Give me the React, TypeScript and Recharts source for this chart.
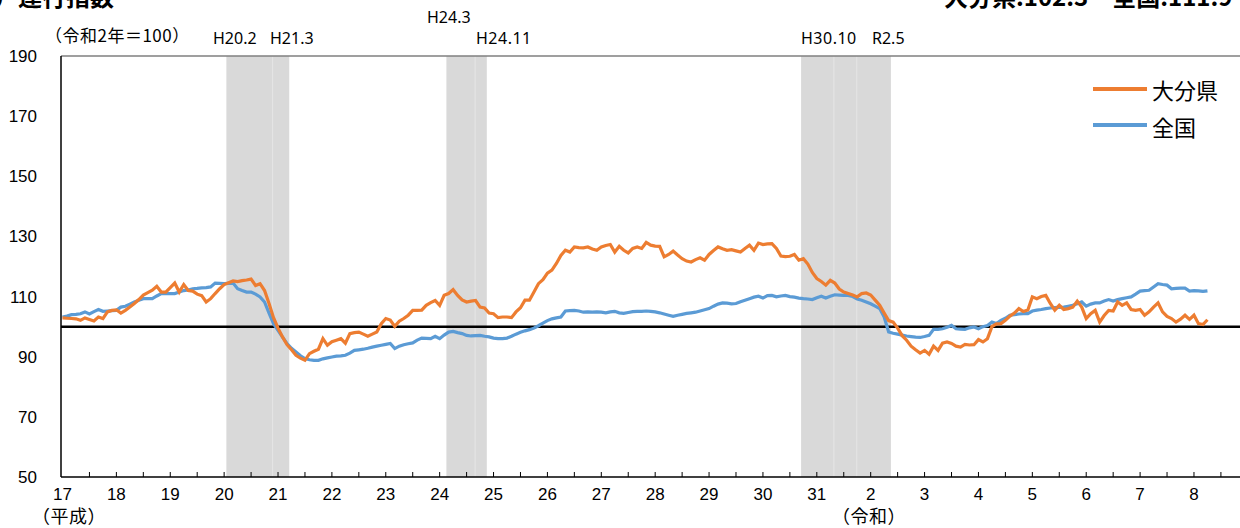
import React from 'react';
import { LineChart, Line, XAxis, YAxis, ReferenceArea, ReferenceLine } from 'recharts';

// Year labels (H17 ... H31, R2 ... R8), one per January
const yearLabels = ['17','18','19','20','21','22','23','24','25','26','27','28','29','30','31','2','3','4','5','6','7','8'];

// 大分県 monthly index (H17.1 ...)
const oita = [
102.9,102.8,102.7,102.6,102.1,102.9,102.4,101.9,103.2,102.7,104.9,105.4,
105.6,104.5,105.4,106.5,107.7,109.0,110.5,111.3,112.1,113.4,111.5,111.5,
113.0,114.5,111.5,114.0,112.0,111.8,110.8,110.3,108.2,109.3,111.0,112.6,
114.0,114.6,115.2,115.0,115.3,115.5,115.8,113.7,114.3,112.0,107.7,103.0,
99.5,96.6,94.0,92.3,90.5,89.5,88.8,91.0,91.8,92.5,96.0,93.8,
95.0,95.5,96.0,94.5,97.7,98.0,98.2,97.5,96.8,97.5,98.2,101.0,
102.7,102.2,100.1,101.8,102.7,103.8,105.4,105.4,105.5,107.1,108.0,108.7,
107.1,110.4,111.0,112.3,110.4,108.9,108.2,108.5,108.7,106.5,106.2,104.5,
104.3,103.0,103.2,103.2,103.0,104.9,106.3,108.8,108.8,111.5,114.3,115.6,
117.8,118.8,121.0,123.7,125.4,124.8,126.5,126.3,126.2,126.5,125.8,125.4,
126.5,127.0,127.3,124.8,126.7,125.4,124.5,126.0,126.5,126.0,128.0,127.1,
126.8,126.7,123.2,124.0,125.1,123.8,122.6,121.8,121.5,122.3,122.9,122.1,
124.0,125.3,126.5,125.9,125.4,125.6,125.2,124.8,126.0,127.1,125.4,127.8,
127.3,127.5,127.6,126.0,123.5,123.3,123.4,124.0,122.1,122.6,120.8,118.0,
116.0,115.0,113.8,115.4,114.5,112.5,111.5,111.0,110.5,109.9,111.0,111.2,
110.5,108.8,107.1,104.5,102.0,101.5,99.5,97.0,95.5,93.5,92.3,91.2,
92.1,90.8,93.5,92.1,94.5,94.9,94.4,93.5,93.2,94.1,93.9,94.0,
95.7,94.9,96.0,100.0,100.9,101.0,102.1,103.5,104.5,106.0,105.0,105.5,
109.9,109.3,110.0,110.4,107.7,105.5,107.1,105.7,106.0,106.5,108.5,106.5,
102.7,104.3,105.4,101.5,103.7,105.4,105.2,108.2,107.1,107.9,105.7,105.4,
105.7,103.8,104.9,106.5,107.9,104.9,103.4,102.7,101.5,102.5,103.8,102.4,
103.8,101.0,100.7,102.3
];

// 全国 monthly index
const zenkoku = [
103.2,103.5,104.0,104.1,104.3,104.9,104.2,105.0,105.7,105.1,105.2,105.3,
105.4,106.5,106.8,107.5,108.2,108.8,109.3,109.3,109.3,110.2,111.0,111.0,
111.0,111.0,111.5,112.0,112.2,112.6,112.7,112.9,113.0,113.2,114.5,114.4,
114.3,114.4,114.5,112.6,112.0,111.5,111.5,110.8,109.9,108.2,104.5,101.0,
98.8,96.5,94.4,92.8,91.6,90.3,89.4,89.0,88.8,88.8,89.3,89.6,
89.9,90.2,90.3,90.5,91.2,92.1,92.3,92.5,92.8,93.2,93.5,93.8,
94.1,94.4,92.7,93.5,94.0,94.3,94.6,95.5,96.2,96.1,96.0,96.8,
96.0,97.2,98.2,98.4,98.0,97.7,97.1,96.9,97.0,97.1,96.8,96.6,
96.2,96.0,96.0,96.2,96.8,97.5,98.1,98.6,99.0,99.5,100.3,101.2,
102.0,102.6,102.9,103.2,105.2,105.3,105.4,105.2,104.8,104.9,104.8,104.9,
104.8,104.6,104.9,105.1,104.6,104.4,104.7,105.0,105.1,105.1,105.2,105.1,
104.9,104.6,104.2,103.8,103.4,103.8,104.1,104.4,104.6,104.8,105.2,105.6,
106.0,106.8,107.5,107.9,107.8,107.6,107.7,108.3,108.8,109.3,109.8,110.1,
109.5,110.3,110.4,109.9,110.2,110.4,110.0,109.8,109.5,109.3,109.2,109.0,
109.6,110.1,109.5,110.1,110.6,110.5,110.4,110.4,110.0,109.2,108.8,108.2,
107.6,106.8,106.0,103.2,98.2,97.8,97.5,97.2,96.9,96.7,96.5,96.4,
96.7,97.1,99.1,99.1,99.3,99.8,100.4,99.3,99.2,99.1,99.6,99.9,
99.3,100.0,100.4,101.5,101.0,102.1,102.8,103.8,104.0,104.2,104.3,104.3,
105.2,105.5,105.7,106.0,106.2,106.3,106.4,106.5,106.8,107.1,107.6,108.2,
106.8,107.5,107.9,107.9,108.5,109.0,108.5,109.0,109.3,109.6,109.9,110.8,
111.8,112.0,112.1,113.2,114.3,114.0,113.8,112.6,112.7,112.8,112.8,111.8,
112.0,111.9,111.7,111.9
];

// Shaded periods (month index from H17.1)
const recessions = [
  { start: 37, end: 50 },   // H20.2 - H21.3
  { start: 86, end: 94 },   // H24.3 - H24.11
  { start: 165, end: 184 }, // H30.10 - R2.5
];
const innerLines = [46.8, 91.9, 171.8, 176.9];

const yTicks = [50, 70, 90, 110, 130, 150, 170, 190];
const xTicks = Array.from({ length: 44 }, (_, i) => i * 6);

const data = oita.map((v, i) => ({ m: i, oita: v, zenkoku: zenkoku[i] }));

const ORANGE = '#ED7D31';
const BLUE = '#5B9BD5';
const NUMFONT = '"Liberation Sans", Arial, sans-serif';
const JPFONT = '"Noto Sans CJK JP", "Noto Sans", sans-serif';
const LBLFONT = '"Noto Sans", sans-serif';

const XTick = (props: any) => {
  const { x, y, payload } = props;
  const v = payload.value as number;
  const isYear = v % 12 === 0;
  return (
    <g>
      {v > 0 && <line x1={x} x2={x} y1={y} y2={y - 5} stroke="#000" strokeWidth={1} />}
      {isYear && (
        <text x={x} y={y + 23} textAnchor="middle" fontSize={17} fontFamily={NUMFONT} fill="#000">
          {yearLabels[v / 12]}
        </text>
      )}
    </g>
  );
};

const abs = (left: number, top: number, extra: React.CSSProperties = {}): React.CSSProperties => ({
  position: 'absolute', left, top, whiteSpace: 'nowrap', lineHeight: 1, ...extra,
});

export default function App() {
  return (
    <div style={{ position: 'absolute', left: 0, top: 0, width: 1240, height: 528, overflow: 'hidden', background: '#fff' }}>
      <LineChart width={1240} height={528} data={data} margin={{ top: 56, right: 0, bottom: 0, left: 0 }}>
        {recessions.map((r, i) => (
          <ReferenceArea key={'ra' + i} x1={r.start - 0.5} x2={r.end + 0.5} y1={50} y2={190} fill="#d9d9d9" fillOpacity={1} stroke="none" ifOverflow="hidden" />
        ))}
        {innerLines.map((x, i) => (
          <ReferenceLine key={'il' + i} x={x} stroke="#e6e6e6" strokeWidth={1} />
        ))}
        <ReferenceLine y={190} stroke="#7f7f7f" strokeWidth={1.5} />
        <ReferenceLine y={100} stroke="#000" strokeWidth={2.5} />
        <XAxis
          dataKey="m"
          type="number"
          domain={[-0.334, 262.25]}
          allowDataOverflow
          ticks={xTicks}
          interval={0}
          height={51}
          tickSize={0}
          tickMargin={0}
          tickLine={false}
          axisLine={{ stroke: '#000', strokeWidth: 1.5 }}
          tick={<XTick />}
        />
        <YAxis
          type="number"
          domain={[50, 190]}
          ticks={yTicks}
          interval={0}
          width={61}
          tickSize={0}
          tickMargin={24}
          tickLine={false}
          axisLine={{ stroke: '#000', strokeWidth: 1.5 }}
          tick={{ fontSize: 17, fontFamily: NUMFONT, fill: '#000' }}
        />
        <Line dataKey="zenkoku" stroke={BLUE} strokeWidth={3.2} dot={false} isAnimationActive={false} type="linear" />
        <Line dataKey="oita" stroke={ORANGE} strokeWidth={3.2} dot={false} isAnimationActive={false} type="linear" />
      </LineChart>

      {/* Title and summary (cut at the top edge) */}
      <div style={abs(-6, -16, { fontSize: 24, fontWeight: 700, fontFamily: JPFONT, color: '#000' })}>）運行指数</div>
      <div style={abs(944, -16, { fontSize: 24, fontWeight: 700, fontFamily: JPFONT, color: '#000' })}>大分県:102.3　全国:111.9</div>

      <div style={abs(45, 26, { fontSize: 17, letterSpacing: 0.5, fontFamily: JPFONT, color: '#000' })}>（令和2年＝100）</div>

      {/* Period labels */}
      <div style={abs(213, 30, { fontSize: 16, fontFamily: LBLFONT, color: '#000' })}>H20.2</div>
      <div style={abs(270, 30, { fontSize: 16, fontFamily: LBLFONT, color: '#000' })}>H21.3</div>
      <div style={abs(427, 9, { fontSize: 16, fontFamily: LBLFONT, color: '#000' })}>H24.3</div>
      <div style={abs(476, 30, { fontSize: 16, letterSpacing: 0.5, fontFamily: LBLFONT, color: '#000' })}>H24.11</div>
      <div style={abs(801, 30, { fontSize: 16, letterSpacing: 0.5, fontFamily: LBLFONT, color: '#000' })}>H30.10</div>
      <div style={abs(872, 30, { fontSize: 16, fontFamily: LBLFONT, color: '#000' })}>R2.5</div>

      {/* Era labels */}
      <div style={abs(32, 506, { fontSize: 18, letterSpacing: 0.5, fontFamily: JPFONT, color: '#000' })}>（平成）</div>
      <div style={abs(832, 506, { fontSize: 18, letterSpacing: 0.5, fontFamily: JPFONT, color: '#000' })}>（令和）</div>

      {/* Legend */}
      <div style={abs(1093, 87, { width: 54, height: 3.5, background: ORANGE })} />
      <div style={abs(1152, 78, { fontSize: 22, fontFamily: JPFONT, color: '#000' })}>大分県</div>
      <div style={abs(1093, 123, { width: 54, height: 3.5, background: BLUE })} />
      <div style={abs(1152, 115, { fontSize: 22, fontFamily: JPFONT, color: '#000' })}>全国</div>
    </div>
  );
}
